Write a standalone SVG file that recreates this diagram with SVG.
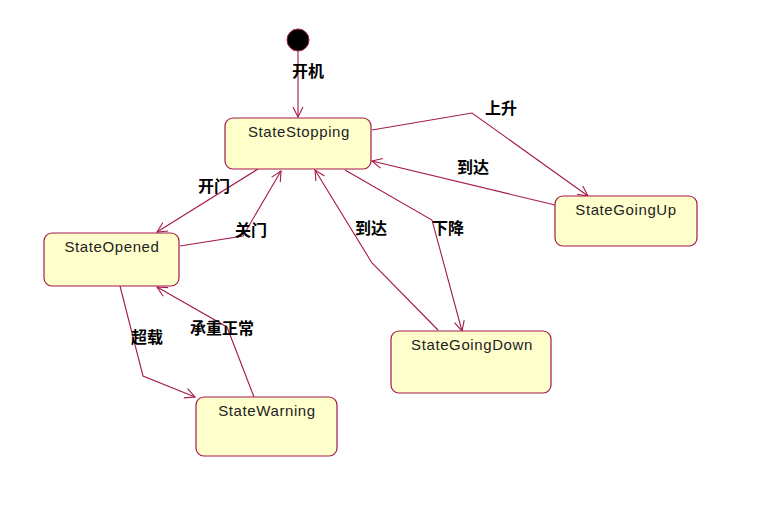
<svg xmlns="http://www.w3.org/2000/svg" width="758" height="510" viewBox="0 0 758 510">
<style>
.node{fill:#FFFFCC;stroke:#A5194A;stroke-width:1.2}
.nt{font-family:"Liberation Sans",Arial,sans-serif;font-size:15px;letter-spacing:0.6px;fill:#222;text-anchor:middle}
.c{fill:none;stroke:#A5194A;stroke-width:1.1}
.lb{font-family:"Noto Sans CJK SC","Noto Sans",sans-serif;font-size:16px;font-weight:bold;fill:#000}
</style>
<defs>
<marker id="a" markerWidth="12" markerHeight="12" refX="11" refY="6" orient="auto" markerUnits="userSpaceOnUse">
<path d="M1,1 L11,6 L1,11" fill="none" stroke="#A5194A" stroke-width="1.1"/>
</marker>
</defs>
<rect width="758" height="510" fill="#fff"/>
<g id="connectors">
<path class="c" d="M298,51 L298,117" marker-end="url(#a)"/>
<path class="c" d="M372,130 L472,113 L588,196" marker-end="url(#a)"/>
<path class="c" d="M555,205 L372,161" marker-end="url(#a)"/>
<path class="c" d="M258,169 L157,232" marker-end="url(#a)"/>
<path class="c" d="M180,246 L243,236 L281,171" marker-end="url(#a)"/>
<path class="c" d="M120,286 L143,376 L195,397" marker-end="url(#a)"/>
<path class="c" d="M254,397 L227,327 L157,287" marker-end="url(#a)"/>
<path class="c" d="M345,170 L432,220 L462,331" marker-end="url(#a)"/>
<path class="c" d="M438,330 L372,263 L315,170" marker-end="url(#a)"/>
<text class="lb" x="292" y="77">开机</text>
<text class="lb" x="485" y="114">上升</text>
<text class="lb" x="457" y="173">到达</text>
<text class="lb" x="198" y="192">开门</text>
<text class="lb" x="235" y="236">关门</text>
<text class="lb" x="131" y="343">超载</text>
<text class="lb" x="190" y="334">承重正常</text>
<text class="lb" x="432" y="234">下降</text>
<text class="lb" x="355" y="234">到达</text>
</g>
<g id="initial">
<circle cx="298" cy="40" r="11" fill="#000" stroke="#A5194A" stroke-width="1"/>
</g>
<g id="StateStopping">
<rect class="node" x="225" y="118" width="146" height="51" rx="8"/>
<text class="nt" x="299" y="137">StateStopping</text>
</g>
<g id="StateGoingUp">
<rect class="node" x="555" y="196" width="142" height="50" rx="8"/>
<text class="nt" x="626" y="215">StateGoingUp</text>
</g>
<g id="StateOpened">
<rect class="node" x="44" y="233" width="135" height="53" rx="8"/>
<text class="nt" x="112" y="252">StateOpened</text>
</g>
<g id="StateWarning">
<rect class="node" x="196" y="397" width="141" height="59" rx="8"/>
<text class="nt" x="267" y="416">StateWarning</text>
</g>
<g id="StateGoingDown">
<rect class="node" x="391" y="331" width="160" height="62" rx="8"/>
<text class="nt" x="472" y="350">StateGoingDown</text>
</g>
</svg>
